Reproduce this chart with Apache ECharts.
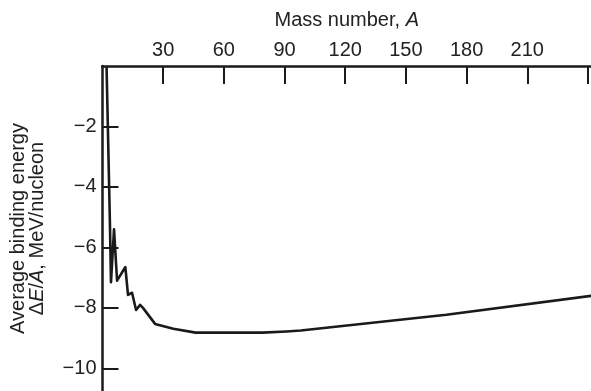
<!DOCTYPE html>
<html>
<head>
<meta charset="utf-8">
<script src="https://cdn.jsdelivr.net/npm/echarts@6/dist/echarts.min.js"></script>
<style>
  html, body { margin: 0; padding: 0; background: #fff; }
  #chart { width: 591px; height: 391px; }
</style>
</head>
<body>
<div id="chart"></div>
<script>
// Average binding energy per nucleon against mass number
const massNumber = [2, 3.7, 4.2, 5.7, 7.2, 11.3, 12.6, 14.6, 16.6, 18.6, 20, 26, 35, 46, 79, 91, 98, 170, 242];
const bindingEnergy = [0, -5.3, -7.15, -5.4, -7.1, -6.65, -7.57, -7.5, -8.07, -7.9, -8.0, -8.53, -8.69, -8.82, -8.82, -8.78, -8.75, -8.23, -7.6];

// tick positions and the ones that carry a label
const xTicks = [30, 60, 90, 120, 150, 180, 210, 240];
const xTickLabels = [30, 60, 90, 120, 150, 180, 210];
const yTicks = [-2, -4, -6, -8, -10];
const yTickLabels = [-2, -4, -6, -8, -10];

const FONT = '"Liberation Sans", Arial, Helvetica, sans-serif';
const INK = '#1a1a1a';
const TEXT = '#222';

const points = massNumber.map((a, i) => [a, bindingEnergy[i]]);

const chart = echarts.init(document.getElementById('chart'), null, { renderer: 'canvas' });

const nameStyle = (italic) => ({
  fontFamily: FONT, fontSize: 20, color: TEXT, lineHeight: 19,
  fontStyle: italic ? 'italic' : 'normal'
});

chart.setOption({
  animation: false,
  backgroundColor: '#fff',
  grid: { left: 102.5, right: 0, top: 66, bottom: 0, containLabel: false },
  xAxis: {
    type: 'value',
    position: 'top',
    min: 0,
    max: 241.5,
    name: '{n|Mass number, }{i|A}',
    nameLocation: 'middle',
    nameGap: 36,
    nameTextStyle: { rich: { n: nameStyle(false), i: nameStyle(true) } },
    axisLine: { show: true, lineStyle: { color: INK, width: 2.5 } },
    axisTick: { show: true, inside: true, length: 18, customValues: xTicks, lineStyle: { color: INK, width: 2 } },
    axisLabel: {
      margin: 6,
      customValues: xTickLabels,
      fontFamily: FONT, fontSize: 20, color: TEXT
    },
    splitLine: { show: false }
  },
  yAxis: {
    type: 'value',
    min: -10.75,
    max: 0,
    name: '{n|Average binding energy}\n{n|Δ}{i|E}{n|/}{i|A}{n|, MeV/nucleon}',
    nameLocation: 'middle',
    nameGap: 56,
    nameTextStyle: { rich: { n: nameStyle(false), i: nameStyle(true) } },
    axisLine: { show: true, onZero: false, lineStyle: { color: INK, width: 2.5 } },
    axisTick: { show: true, inside: true, length: 16, customValues: yTicks, lineStyle: { color: INK, width: 2 } },
    axisLabel: {
      margin: 6,
      customValues: yTickLabels,
      fontFamily: FONT, fontSize: 20, color: TEXT,
      formatter: (v) => '−' + Math.abs(v)
    },
    splitLine: { show: false }
  },
  series: [{
    type: 'line',
    data: points,
    showSymbol: false,
    smooth: false,
    clip: true,
    lineStyle: { color: INK, width: 2.6, join: 'round' }
  }]
});
</script>
</body>
</html>
